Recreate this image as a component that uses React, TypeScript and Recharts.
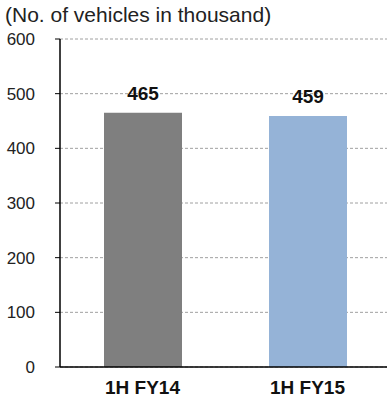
import { BarChart, Bar, XAxis, YAxis, CartesianGrid, Cell, LabelList } from "recharts";

const categories = ["1H FY14", "1H FY15"];
const vehicles = [465, 459];
const yTicks = [0, 100, 200, 300, 400, 500, 600];

const COLORS = ["#7f7f7f", "#95b3d7"];
const FONT = "'Liberation Sans', Arial, sans-serif";

const data = categories.map((name, i) => ({ name, value: vehicles[i] }));

export default function App() {
  return (
    <div
      style={{
        position: "absolute",
        left: 0,
        top: 0,
        width: 387,
        height: 403,
        overflow: "hidden",
        background: "#fff",
        fontFamily: FONT,
      }}
    >
      <div
        style={{
          position: "absolute",
          left: 5,
          top: 4,
          fontSize: 21,
          lineHeight: "21px",
          color: "#222",
          whiteSpace: "nowrap",
        }}
      >
        (No. of vehicles in thousand)
      </div>
      <BarChart
        width={390}
        height={403}
        data={data}
        margin={{ top: 39, right: 0, bottom: 0, left: 0 }}
        barSize={78}
      >
        <CartesianGrid vertical={false} stroke="#a0a0a0" strokeDasharray="3 2" />
        <XAxis
          dataKey="name"
          height={36}
          axisLine={{ stroke: "#000", strokeWidth: 1.5 }}
          tickLine={false}
          tickSize={0}
          tickMargin={14}
          tick={{ fill: "#111", fontSize: 19, fontWeight: 700, fontFamily: FONT }}
        />
        <YAxis
          width={60}
          domain={[0, 600]}
          ticks={yTicks}
          interval={0}
          axisLine={{ stroke: "#000", strokeWidth: 1.5 }}
          tickLine={{ stroke: "#000" }}
          tickSize={5}
          tickMargin={20}
          tick={{ fill: "#222", fontSize: 17, fontFamily: FONT }}
        />
        <Bar dataKey="value" isAnimationActive={false}>
          {data.map((d, i) => (
            <Cell key={d.name} fill={COLORS[i]} />
          ))}
          <LabelList
            dataKey="value"
            position="top"
            offset={13}
            fill="#111"
            fontSize={19}
            fontWeight={700}
            fontFamily={FONT}
          />
        </Bar>
      </BarChart>
    </div>
  );
}
